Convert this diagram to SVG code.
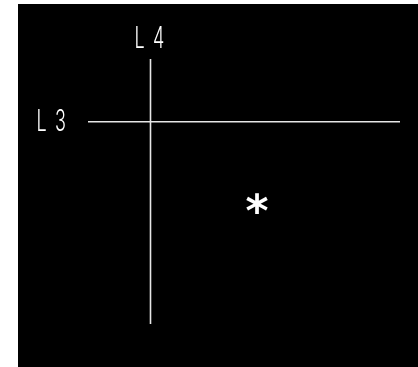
<svg xmlns="http://www.w3.org/2000/svg" width="418" height="367" viewBox="0 0 418 367">
<style>
.lbl{font-family:Inter,"DejaVu Sans",sans-serif;font-weight:300;font-size:30px;fill:#ffffff;letter-spacing:14px}
.ln{stroke:#e6e6e6;stroke-width:1.6;fill:none}
.star{font-family:"DejaVu Sans",sans-serif;font-weight:bold;font-size:44px;fill:#ffffff}
.gs{filter:url(#gray)}
</style>
<defs>
<filter id="gray" x="-20%" y="-20%" width="140%" height="140%"><feColorMatrix type="saturate" values="0"/></filter>
</defs>
<rect x="0" y="0" width="418" height="367" fill="#ffffff"/>
<rect x="18" y="4" width="400" height="363" fill="#000000"/>
<g id="connectors">
<line class="ln" x1="150.5" y1="59" x2="150.5" y2="324"/>
<line class="ln" x1="88" y1="121.8" x2="400" y2="121.8"/>
</g>
<g id="L4" class="gs"><text class="lbl" transform="translate(134.5,48) scale(0.6,1)">L4</text></g>
<g id="L3" class="gs"><text class="lbl" transform="translate(36.5,130.5) scale(0.6,1)">L3</text></g>
<g id="mark" class="gs"><text class="star" x="257" y="226" text-anchor="middle">*</text></g>
</svg>
